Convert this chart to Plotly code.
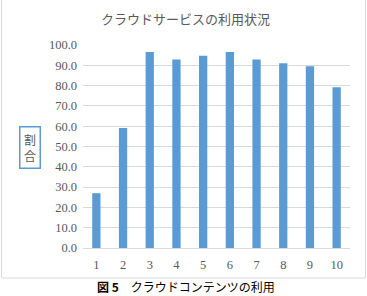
import plotly.graph_objects as go

categories = [1, 2, 3, 4, 5, 6, 7, 8, 9, 10]
values = [27.0, 59.1, 96.5, 92.9, 94.7, 96.5, 92.9, 91.0, 89.5, 79.2]
y_ticks = [0, 10, 20, 30, 40, 50, 60, 70, 80, 90, 100]
title_text = "クラウドサービスの利用状況"
y_title = "割<br>合"
caption = "<b>図 5</b>　クラウドコンテンツの利用"

grey = "#595959"
serif = "Liberation Serif"
jp = "Noto Sans CJK JP"

fig = go.Figure(go.Bar(x=categories, y=values, marker_color="#5b9bd5",
                       marker_line_width=0, width=0.31))

W, H = 367, 296
L, R, T, B = 83, 17, 45, 48
pw, ph = W - L - R, H - T - B

def px(x):
    return (x - L) / pw

def py(y):
    return (H - B - y) / ph

fig.update_layout(
    width=W, height=H,
    margin=dict(l=L, r=R, t=T, b=B),
    paper_bgcolor="white", plot_bgcolor="white",
    showlegend=False,
    xaxis=dict(tickmode="array", tickvals=categories, ticktext=[str(c) for c in categories],
               range=[0.5, 10.5], showgrid=False, zeroline=False,
               showline=True, linecolor="#d9d9d9", linewidth=1,
               tickfont=dict(family=serif, size=12.5, color=grey),
               ticks="", ticklabelstandoff=5),
    yaxis=dict(tickmode="array", tickvals=y_ticks, ticktext=[f"{v:.1f}" for v in y_ticks],
               range=[0, 100], showgrid=True, gridcolor="#d9d9d9", gridwidth=1,
               zeroline=False, showline=False,
               tickfont=dict(family=serif, size=12.5, color=grey),
               ticks="", ticklabelstandoff=5),
    shapes=[dict(type="rect", xref="paper", yref="paper",
                 x0=px(1.5), x1=px(365.5), y0=py(278), y1=py(-5),
                 line=dict(color="#d9d9d9", width=1), fillcolor="rgba(0,0,0,0)", layer="below")],
    annotations=[
        dict(text=title_text, xref="paper", yref="paper", x=px(185), y=py(18),
             showarrow=False, font=dict(family=jp, size=13, color=grey),
             xanchor="center", yanchor="middle"),
        dict(text=y_title, xref="paper", yref="paper", x=px(29.5), y=py(147),
             showarrow=False, font=dict(family=jp, size=12, color=grey),
             bordercolor="#5b9bd5", borderwidth=1.5, borderpad=3.5,
             xanchor="center", yanchor="middle"),
        dict(text=caption, xref="paper", yref="paper", x=px(186), y=py(286),
             showarrow=False, font=dict(family=jp, size=12, color="black"),
             xanchor="center", yanchor="middle"),
    ],
)

fig.write_html("out.html")
